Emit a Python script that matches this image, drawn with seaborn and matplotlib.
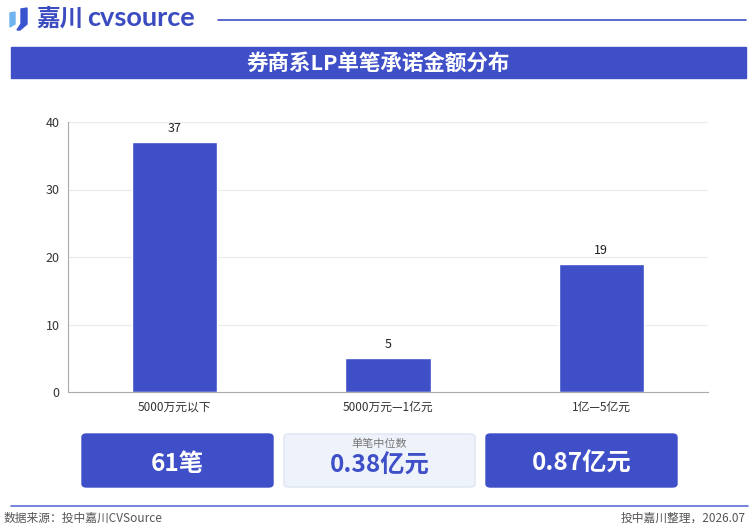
import pandas as pd
import matplotlib.pyplot as plt
import seaborn as sns
from matplotlib.patches import FancyBboxPatch, Rectangle, Polygon
from matplotlib.lines import Line2D


# ////////////////DATA

categories = ["5000万元以下", "5000万元—1亿元", "1亿—5亿元"]
counts = [37, 5, 19]
y_ticks = [0, 10, 20, 30, 40]

title = "券商系LP单笔承诺金额分布"
total_text = "61笔"
median_label = "单笔中位数"
median_text = "0.38亿元"
mean_text = "0.87亿元"
source_text = "数据来源：投中嘉川CVSource"
note_text = "投中嘉川整理，2026.07"

df = pd.DataFrame({"range": categories, "count": counts})

BLUE = "#3e4fc7"
W, H = 752, 526


def fx(x):
    return x / W


def fy(y):
    return 1 - y / H


# ////////////////STYLE

sns.set_style("white")
plt.rcParams["font.family"] = ["Noto Sans CJK SC", "DejaVu Sans"]

fig = plt.figure(figsize=(W / 100, H / 100), dpi=100)

# ////////////////HEADER

fig.patches.append(Polygon([[fx(10), fy(13)], [fx(15), fy(12)], [fx(15), fy(24)], [fx(10), fy(27)]],
                           closed=True, color="#6fb4ee", transform=fig.transFigure))
fig.patches.append(Polygon([[fx(21), fy(9)], [fx(27), fy(8)], [fx(27), fy(24)], [fx(20), fy(30)], [fx(17), fy(30)], [fx(21), fy(24)]],
                           closed=True, color="#3a55cf", transform=fig.transFigure))
fig.text(fx(36), fy(19), "嘉川", fontsize=17, fontweight="bold", color="#3b4cc0", va="center", ha="left")
fig.text(fx(87), fy(18), "cvsource", fontsize=19.5, fontweight="bold", color="#3b4cc0", va="center", ha="left",
         family=["Lato", "DejaVu Sans"])
fig.add_artist(Line2D([fx(218), fx(746)], [fy(20), fy(20)], color=BLUE, lw=1.2, transform=fig.transFigure))

fig.patches.append(Rectangle((fx(11), fy(78)), fx(735), 31 / H, color=BLUE, transform=fig.transFigure))
fig.text(fx(378), fy(63), title, fontsize=15.5, fontweight="bold", color="white", ha="center", va="center")

# ////////////////BAR CHART

ax = fig.add_axes([fx(68), fy(392), fx(640), 270 / H])
sns.barplot(data=df, x="range", y="count", color=BLUE, width=0.4, saturation=1, ax=ax)
ax.bar_label(ax.containers[0], padding=5, fontsize=9, color="#222222")

ax.set_ylim(0, 40)
ax.set_yticks(y_ticks)
ax.set_xlim(-0.5, 2.5)
ax.set_xlabel("")
ax.set_ylabel("")
ax.yaxis.grid(True, color="#ebebeb", lw=0.8)
ax.set_axisbelow(True)
for s in ["top", "right"]:
    ax.spines[s].set_visible(False)
ax.spines["left"].set_color("#aaaaaa")
ax.spines["bottom"].set_color("#aaaaaa")
ax.tick_params(axis="y", length=4, color="#aaaaaa", labelsize=9, labelcolor="#333333", pad=2)
ax.tick_params(axis="x", length=0, labelsize=8.5, labelcolor="#333333", pad=6)
ax.set_xticks([-0.5, 0.5, 1.5, 2.5], minor=True)
ax.tick_params(axis="x", which="minor", length=4, color="#aaaaaa")

# ////////////////SUMMARY BOXES

def box(x0, face, edge):
    fig.patches.append(FancyBboxPatch((fx(x0), fy(487)), fx(191), 53 / H,
                                      boxstyle="round,pad=0,rounding_size=0.006",
                                      facecolor=face, edgecolor=edge, lw=1, transform=fig.transFigure))


box(82, BLUE, BLUE)
box(284, "#eef2fa", "#dfe5f3")
box(486, BLUE, BLUE)

fig.text(fx(177.5), fy(464), total_text, fontsize=17.5, fontweight="bold", color="white", ha="center", va="center")
fig.text(fx(379.5), fy(444), median_label, fontsize=8, color="#777777", ha="center", va="center")
fig.text(fx(379.5), fy(466), median_text, fontsize=17.5, fontweight="bold", color=BLUE, ha="center", va="center")
fig.text(fx(581.5), fy(464), mean_text, fontsize=17.5, fontweight="bold", color="white", ha="center", va="center")

# ////////////////FOOTER

fig.add_artist(Line2D([fx(11), fx(748)], [fy(506), fy(506)], color="#5f70d3", lw=1.2, transform=fig.transFigure))
fig.text(fx(4), fy(518), source_text, fontsize=8.5, color="#555555", ha="left", va="center")
fig.text(fx(746), fy(518), note_text, fontsize=8.5, color="#555555", ha="right", va="center")

plt.savefig("out.png", dpi=100)
